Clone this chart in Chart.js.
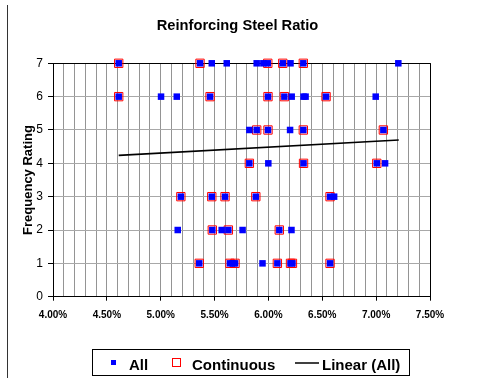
<!DOCTYPE html>
<html>
<head>
<meta charset="utf-8">
<script src="https://cdn.jsdelivr.net/npm/chart.js@4/dist/chart.umd.min.js"></script>
<style>
  html, body { margin: 0; padding: 0; background: #fff; }
  #wrap { width: 482px; height: 378px; position: relative; }
</style>
</head>
<body>
<div id="wrap"><canvas id="c" width="482" height="378"></canvas></div>
<script>
const FONT = '"Liberation Sans", Arial, Helvetica, sans-serif';
const chartTitle = 'Reinforcing Steel Ratio';
const yAxisTitle = 'Frequency Rating';
const seriesNames = ['All', 'Continuous', 'Linear (All)'];

// Steel ratio (%) and frequency rating of every record
const allRatio = [
  4.61, 5.365, 5.474, 5.613, 5.891, 5.953, 5.994, 6.133, 6.205, 6.324, 7.206,
  4.61, 5.003, 5.149, 5.458, 5.996, 6.148, 6.216, 6.326, 6.345, 6.535, 6.996,
  5.823, 5.891, 5.996, 6.201, 6.324, 7.067,
  5.823, 5.999, 6.326, 7.006, 7.083,
  5.187, 5.474, 5.597, 5.883, 6.572, 6.61,
  5.158, 5.479, 5.566, 5.628, 5.76, 6.101, 6.214,
  5.358, 5.643, 5.667, 5.69, 5.945, 6.083, 6.205, 6.223, 6.572
];
const allRating = [
  7, 7, 7, 7, 7, 7, 7, 7, 7, 7, 7,
  6, 6, 6, 6, 6, 6, 6, 6, 6, 6, 6,
  5, 5, 5, 5, 5, 5,
  4, 4, 4, 4, 4,
  3, 3, 3, 3, 3, 3,
  2, 2, 2, 2, 2, 2, 2,
  1, 1, 1, 1, 1, 1, 1, 1, 1
];

// Records from continuous members
const contRatio = [
  4.61, 5.365, 5.994, 6.133, 6.324,
  4.61, 5.458, 5.996, 6.148, 6.535,
  5.891, 5.996, 6.324, 7.067,
  5.823, 6.326, 7.006,
  5.187, 5.474, 5.597, 5.883, 6.572,
  5.479, 5.628, 6.101,
  5.358, 5.643, 5.69, 6.083, 6.205, 6.223, 6.572
];
const contRating = [
  7, 7, 7, 7, 7,
  6, 6, 6, 6, 6,
  5, 5, 5, 5,
  4, 4, 4,
  3, 3, 3, 3, 3,
  2, 2, 2,
  1, 1, 1, 1, 1, 1, 1
];

// Linear trend of the "All" series, end points
const trendRatio = [4.61, 7.21];
const trendRating = [4.24, 4.70];

const xTickLabels = ['4.00%', '4.50%', '5.00%', '5.50%', '6.00%', '6.50%', '7.00%', '7.50%'];
const yTickLabels = ['0', '1', '2', '3', '4', '5', '6', '7'];

const toPoints = (xs, ys) => xs.map((x, i) => ({ x: x, y: ys[i] }));
const isMajor = v => Math.round(v * 10) % 5 === 0;

// Title drawn above the plot
const titlePlugin = {
  id: 'topTitle',
  afterDraw(chart) {
    const ctx = chart.ctx;
    ctx.save();
    ctx.font = 'bold 14.7px ' + FONT;
    ctx.fillStyle = '#000';
    ctx.textAlign = 'center';
    ctx.textBaseline = 'alphabetic';
    ctx.fillText(chartTitle, 237.5, 30);
    ctx.restore();
  }
};

// Frame: left edge of the outer chart box and the plot border
const framePlugin = {
  id: 'frame',
  beforeDatasetsDraw(chart) {
    const ctx = chart.ctx;
    const a = chart.chartArea;
    ctx.save();
    ctx.strokeStyle = '#000';
    ctx.lineWidth = 1;
    ctx.beginPath();
    ctx.moveTo(Math.round(a.left) + 0.5, Math.round(a.top) + 0.5);
    ctx.lineTo(Math.round(a.right) + 0.5, Math.round(a.top) + 0.5);
    ctx.lineTo(Math.round(a.right) + 0.5, Math.round(a.bottom) + 0.5);
    ctx.stroke();
    ctx.restore();
  },
  afterDraw(chart) {
    const ctx = chart.ctx;
    ctx.save();
    ctx.strokeStyle = '#333';
    ctx.lineWidth = 1;
    ctx.beginPath();
    ctx.moveTo(7.5, 5);
    ctx.lineTo(7.5, 378);
    ctx.stroke();
    ctx.restore();
  }
};

// Boxed legend below the plot
const legendPlugin = {
  id: 'boxLegend',
  afterDraw(chart) {
    const ctx = chart.ctx;
    ctx.save();
    ctx.strokeStyle = '#000';
    ctx.lineWidth = 1;
    ctx.strokeRect(92.5, 349.5, 317, 26);

    // All: small filled blue square
    ctx.fillStyle = '#0000ff';
    ctx.fillRect(111, 360, 5, 5);
    // Continuous: open red square
    ctx.strokeStyle = '#ff0000';
    ctx.strokeRect(172.5, 358.5, 8, 8);
    // Linear (All): black line
    ctx.strokeStyle = '#000';
    ctx.lineWidth = 1.5;
    ctx.beginPath();
    ctx.moveTo(295, 363);
    ctx.lineTo(319, 363);
    ctx.stroke();

    ctx.fillStyle = '#000';
    ctx.font = 'bold 15px ' + FONT;
    ctx.textAlign = 'left';
    ctx.textBaseline = 'alphabetic';
    ctx.fillText(seriesNames[0], 129, 370);
    ctx.fillText(seriesNames[1], 192, 370);
    ctx.fillText(seriesNames[2], 322, 370);
    ctx.restore();
  }
};

new Chart(document.getElementById('c'), {
  type: 'scatter',
  data: {
    datasets: [
      {
        label: seriesNames[0],
        data: toPoints(allRatio, allRating),
        pointStyle: 'rect',
        pointRadius: 4.6,
        pointBorderWidth: 0,
        backgroundColor: '#0000ff',
        borderColor: '#0000ff',
        clip: false
      },
      {
        label: seriesNames[1],
        data: toPoints(contRatio, contRating),
        pointStyle: 'rect',
        pointRadius: 5.9,
        pointBorderWidth: 1,
        backgroundColor: 'rgba(0,0,0,0)',
        borderColor: '#ff0000',
        clip: false
      },
      {
        label: seriesNames[2],
        data: toPoints(trendRatio, trendRating),
        showLine: true,
        pointRadius: 0,
        borderColor: '#000',
        borderWidth: 1.6,
        backgroundColor: '#000'
      }
    ]
  },
  options: {
    responsive: false,
    animation: false,
    events: [],
    layout: { padding: { left: 0, right: 52, top: 63.3, bottom: 51.3 } },
    plugins: {
      legend: { display: false },
      title: { display: false },
      tooltip: { enabled: false }
    },
    scales: {
      x: {
        type: 'linear',
        min: 4,
        max: 7.5,
        ticks: {
          stepSize: 0.1,
          autoSkip: false,
          maxRotation: 0,
          minRotation: 0,
          padding: 9,
          color: '#000',
          font: { family: FONT, size: 10, weight: 'bold' },
          callback: v => isMajor(v) ? xTickLabels[(Math.round(v * 10) - 40) / 5] : ''
        },
        grid: {
          color: c => (c.tick && Math.abs(c.tick.value - 7.5) < 1e-6) ? '#000' : '#949494',
          tickColor: c => (c.tick && isMajor(c.tick.value)) ? '#000' : 'rgba(0,0,0,0)',
          tickLength: 4,
          lineWidth: 1
        },
        border: { color: '#000', width: 1 },
        afterFit: s => { s.height = 30; }
      },
      y: {
        type: 'linear',
        min: 0,
        max: 7,
        ticks: {
          stepSize: 1,
          padding: 5,
          color: '#000',
          font: { family: FONT, size: 12 },
          callback: v => yTickLabels[Math.round(v)]
        },
        grid: {
          color: c => (c.tick && c.tick.value === 7) ? '#000' : '#a8a8a8',
          tickColor: '#000',
          tickLength: 5,
          lineWidth: 1
        },
        border: { color: '#000', width: 1 },
        title: {
          display: true,
          text: yAxisTitle,
          color: '#000',
          font: { family: FONT, size: 13, weight: 'bold' },
          padding: { top: 20.2, bottom: 0 }
        },
        afterFit: s => { s.width = 53; }
      }
    }
  },
  plugins: [framePlugin, titlePlugin, legendPlugin]
});
</script>
</body>
</html>
